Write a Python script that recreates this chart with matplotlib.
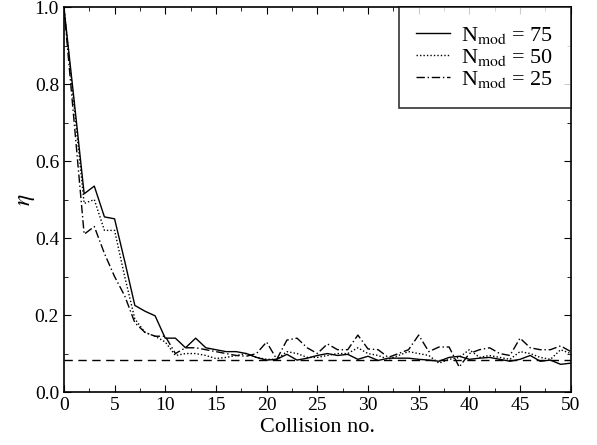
import matplotlib
matplotlib.use("Agg")
import matplotlib.pyplot as plt
from matplotlib.ticker import MultipleLocator

plt.rcParams['font.family'] = ['Liberation Serif', 'DejaVu Serif']
plt.rcParams['mathtext.fontset'] = 'stix'

collision = list(range(0, 51))
eta_75 = [1.0, 0.76, 0.515, 0.535, 0.455, 0.45, 0.34, 0.225, 0.21, 0.198,
          0.14, 0.14, 0.115, 0.14, 0.115, 0.11, 0.105, 0.105, 0.1, 0.09,
          0.083, 0.085, 0.098, 0.083, 0.088, 0.095, 0.1, 0.095, 0.098, 0.085,
          0.093, 0.082, 0.088, 0.088, 0.088, 0.085, 0.083, 0.08, 0.09, 0.093,
          0.085, 0.088, 0.09, 0.085, 0.08, 0.085, 0.095, 0.08, 0.083, 0.072,
          0.075]
eta_50 = [1.0, 0.745, 0.49, 0.5, 0.42, 0.42, 0.3, 0.19, 0.155, 0.145,
          0.13, 0.095, 0.1, 0.1, 0.095, 0.087, 0.09, 0.095, 0.1, 0.09,
          0.085, 0.085, 0.105, 0.1, 0.09, 0.09, 0.095, 0.1, 0.1, 0.115,
          0.1, 0.095, 0.085, 0.095, 0.105, 0.1, 0.095, 0.075, 0.085, 0.09,
          0.11, 0.09, 0.095, 0.09, 0.085, 0.105, 0.1, 0.09, 0.085, 0.11,
          0.1]
eta_25 = [1.0, 0.705, 0.41, 0.43, 0.36, 0.3, 0.25, 0.18, 0.155, 0.145,
          0.145, 0.1, 0.115, 0.115, 0.11, 0.105, 0.1, 0.095, 0.093, 0.1,
          0.13, 0.085, 0.135, 0.14, 0.115, 0.1, 0.125, 0.11, 0.11, 0.148,
          0.112, 0.11, 0.09, 0.1, 0.11, 0.148, 0.105, 0.117, 0.117, 0.065,
          0.1, 0.11, 0.115, 0.1, 0.095, 0.14, 0.115, 0.11, 0.11, 0.12,
          0.105]
eta_limit = 0.083
labels = [r'N$_{\rm mod}$ = 75', r'N$_{\rm mod}$ = 50', r'N$_{\rm mod}$ = 25']

fig = plt.figure(figsize=(5.97, 4.45), dpi=100)
ax = fig.add_axes([0.107, 0.119, 0.849, 0.865])

ax.plot(collision, eta_75, color='black', lw=1.0, ls='-', label=labels[0])
ax.plot(collision, eta_50, color='black', lw=1.0, ls=(0, (1, 1.5)), label=labels[1])
ax.plot(collision, eta_25, color='black', lw=1.0, ls=(0, (6, 2, 1, 2)), label=labels[2])
ax.axhline(eta_limit, color='black', lw=1.0, ls=(0, (6, 4)))

ax.set_xlim(0, 50)
ax.set_ylim(0, 1.0)
ax.xaxis.set_major_locator(MultipleLocator(5))
ax.xaxis.set_minor_locator(MultipleLocator(2.5))
ax.yaxis.set_major_locator(MultipleLocator(0.2))
ax.yaxis.set_minor_locator(MultipleLocator(0.1))
ax.yaxis.set_major_formatter(plt.FuncFormatter(lambda v, p: f'{v:.1f}'))
ax.tick_params(which='both', direction='in', top=True, right=True, labelsize=14)
ax.tick_params(which='major', length=5)
ax.tick_params(which='minor', length=3)
for s in ax.spines.values():
    s.set_linewidth(1.2)

ax.set_xlabel('Collision no.', fontsize=16, labelpad=3)
ax.set_ylabel(r'$\eta$', fontsize=17, labelpad=-2)

leg = ax.legend(loc='upper right', fontsize=16, frameon=True, fancybox=False,
                handlelength=1.5, borderpad=0.8, labelspacing=0.05,
                borderaxespad=0.0, handletextpad=0.5)
leg.get_frame().set_edgecolor('black')
leg.get_frame().set_linewidth(1.2)

fig.savefig('out.png', dpi=100)
